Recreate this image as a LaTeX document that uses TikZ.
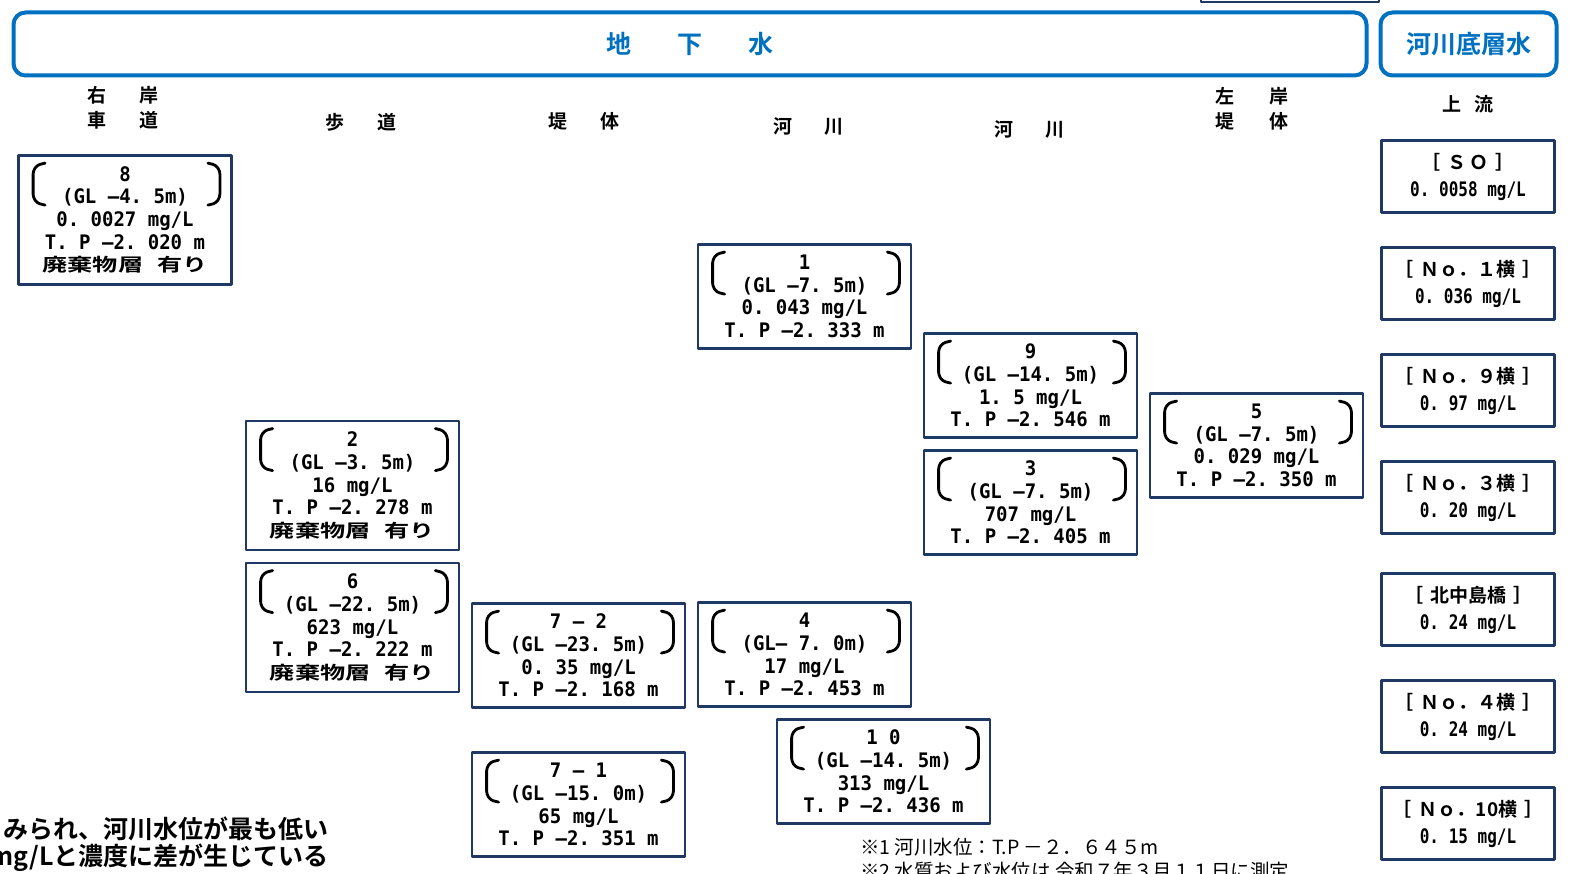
\documentclass[tikz,border=0pt]{standalone}
\usepackage{fontspec}
\usepackage{tikz}
\usetikzlibrary{calc}
\newfontfamily\jpb{Noto Sans CJK JP}[UprightFont=* Bold]
\newfontfamily\jpr{Noto Sans CJK JP}
\newfontfamily\jpwide{Noto Sans CJK JP}[UprightFont=* Bold, FakeStretch=1.4]
\newfontfamily\monob{DejaVu Sans Mono}[UprightFont=* Bold, FakeStretch=0.95]
\newfontfamily\monon{DejaVu Sans Mono}[UprightFont=* Bold, FakeStretch=0.8]
\definecolor{hdrblue}{HTML}{0070C0}
\definecolor{boxnavy}{HTML}{1F3864}
\newcommand{\wastelayer}{{\jpwide\fontsize{18}{22.7}\selectfont 廃棄物層\hspace{14pt}有り}}
\newcommand{\ptname}[1]{{\jpb\fontsize{19}{27}\selectfont ［\hspace{7pt}#1\hspace{7pt}］}}
\newcommand{\wellbrk}[1]{%
  \draw[brk] ($(#1.north west)+(28,9)$) -- ++(-8,2) -- ++(-4,6) -- ++(0,26) -- ++(4,6) -- ++(8,2);
  \draw[brk] ($(#1.north east)+(-25,9)$) -- ++(8,2) -- ++(4,6) -- ++(0,26) -- ++(-4,6) -- ++(-8,2);}
\tikzset{
  well/.style={draw=boxnavy, line width=2.8pt, rectangle, inner sep=0pt, minimum width=213pt,
    align=center, font=\monob\fontsize{20}{22.7}\selectfont},
  well4/.style={well, minimum height=104pt},
  well5/.style={well, minimum height=129pt},
  river/.style={draw=boxnavy, line width=2.8pt, rectangle, inner sep=0pt, minimum width=173pt,
    minimum height=72pt, align=center, font=\monon\fontsize{20}{27}\selectfont},
  head/.style={draw=hdrblue, line width=4pt, rounded corners=12pt, minimum height=63pt,
    inner sep=0pt, text=hdrblue, font=\jpb\fontsize{25}{25}\selectfont},
  col/.style={font=\jpb\fontsize{19}{25}\selectfont, align=center, inner sep=0pt},
  brk/.style={line width=2.8pt, rounded corners=3pt, line cap=round},
}
\begin{document}
\begin{tikzpicture}[x=1pt, y=-1pt, line join=round]
  \useasboundingbox (0,0) rectangle (1573,874);
  \clip (0,0) rectangle (1573,874);
  %--- headers
    \node[head, minimum width=1353pt] (gw) at (690,44) {地\hspace{46pt}下\hspace{46pt}水};
    \node[head, minimum width=176pt] (rb) at (1468.5,44) {河川底層水};
    \draw[boxnavy, line width=2.8pt] (1201,-5) rectangle (1379,2);
  %--- column labels
    \node[col] (c1) at (123,108) {右\hspace{34pt}岸\\車\hspace{34pt}道};
    \node[col] (c2) at (361,122) {歩\hspace{34pt}道};
    \node[col] (c3) at (584,121) {堤\hspace{34pt}体};
    \node[col] (c4) at (808,127) {河\hspace{32pt}川};
    \node[col] (c5) at (1029,130) {河\hspace{32pt}川};
    \node[col] (c6) at (1252,109) {左\hspace{35pt}岸\\堤\hspace{35pt}体};
    \node[col] (c7) at (1468,104) {上\hspace{13pt}流};
  %--- wells
    \node[well5] (b8) at (125,220) {8\\(GL~–4.~5m)\\0.~0027~mg/L\\T.~P~–2.~020~m\\\wastelayer};
    \node[well5] (b2) at (352.5,485.5) {2\\(GL~–3.~5m)\\16~mg/L\\T.~P~–2.~278~m\\\wastelayer};
    \node[well5] (b6) at (352.5,627.5) {6\\(GL~–22.~5m)\\623~mg/L\\T.~P~–2.~222~m\\\wastelayer};
    \node[well4] (b72) at (578.5,655.5) {7~–~2\\(GL~–23.~5m)\\0.~35~mg/L\\T.~P~–2.~168~m};
    \node[well4] (b71) at (578.5,804.5) {7~–~1\\(GL~–15.~0m)\\65~mg/L\\T.~P~–2.~351~m};
    \node[well4] (b1) at (804.5,296.5) {1\\(GL~–7.~5m)\\0.~043~mg/L\\T.~P~–2.~333~m};
    \node[well4] (b4) at (804.5,654.5) {4\\(GL–~7.~0m)\\17~mg/L\\T.~P~–2.~453~m};
    \node[well4] (b10) at (883.5,771.5) {1~0\\(GL~–14.~5m)\\313~mg/L\\T.~P~–2.~436~m};
    \node[well4] (b9) at (1030.5,385.5) {9\\(GL~–14.~5m)\\1.~5~mg/L\\T.~P~–2.~546~m};
    \node[well4] (b3) at (1030.5,502.5) {3\\(GL~–7.~5m)\\707~mg/L\\T.~P~–2.~405~m};
    \node[well4] (b5) at (1256.5,445.5) {5\\(GL~–7.~5m)\\0.~029~mg/L\\T.~P~–2.~350~m};
    \foreach \w in {b8,b2,b6,b72,b71,b1,b4,b10,b9,b3,b5} {\wellbrk{\w}}
  %--- river bottom water
    \node[river] (so) at (1468,176.5) {\ptname{Ｓ\,Ｏ}\\0.~0058~mg/L};
    \node[river] (r1) at (1468,283.5) {\ptname{Ｎｏ．１横}\\0.~036~mg/L};
    \node[river] (r9) at (1468,390.5) {\ptname{Ｎｏ．９横}\\0.~97~mg/L};
    \node[river] (r3) at (1468,497.5) {\ptname{Ｎｏ．３横}\\0.~20~mg/L};
    \node[river] (kn) at (1468,609.5) {\ptname{北中島橋}\\0.~24~mg/L};
    \node[river] (r4) at (1468,716.5) {\ptname{Ｎｏ．４横}\\0.~24~mg/L};
    \node[river] (r10) at (1468,823.5) {\ptname{Ｎｏ．10横}\\0.~15~mg/L};
  %--- notes
    \node[anchor=east, inner sep=0pt, font=\jpb\fontsize{25}{25}\selectfont] (n1) at (329,829) {みられ、河川水位が最も低い};
    \node[anchor=east, inner sep=0pt, font=\jpb\fontsize{25}{25}\selectfont] (n2) at (329,858) {mg/Lと濃度に差が生じている};
    \node[anchor=west, inner sep=0pt, font=\jpr\fontsize{19.5}{19.5}\selectfont] (f1) at (860,847) {※1 河川水位：T.P －２．６４５m};
    \node[anchor=west, inner sep=0pt, font=\jpr\fontsize{19.5}{19.5}\selectfont] (f2) at (860,871) {※2 水質および水位は 令和７年３月１１日に測定};
\end{tikzpicture}
\end{document}
